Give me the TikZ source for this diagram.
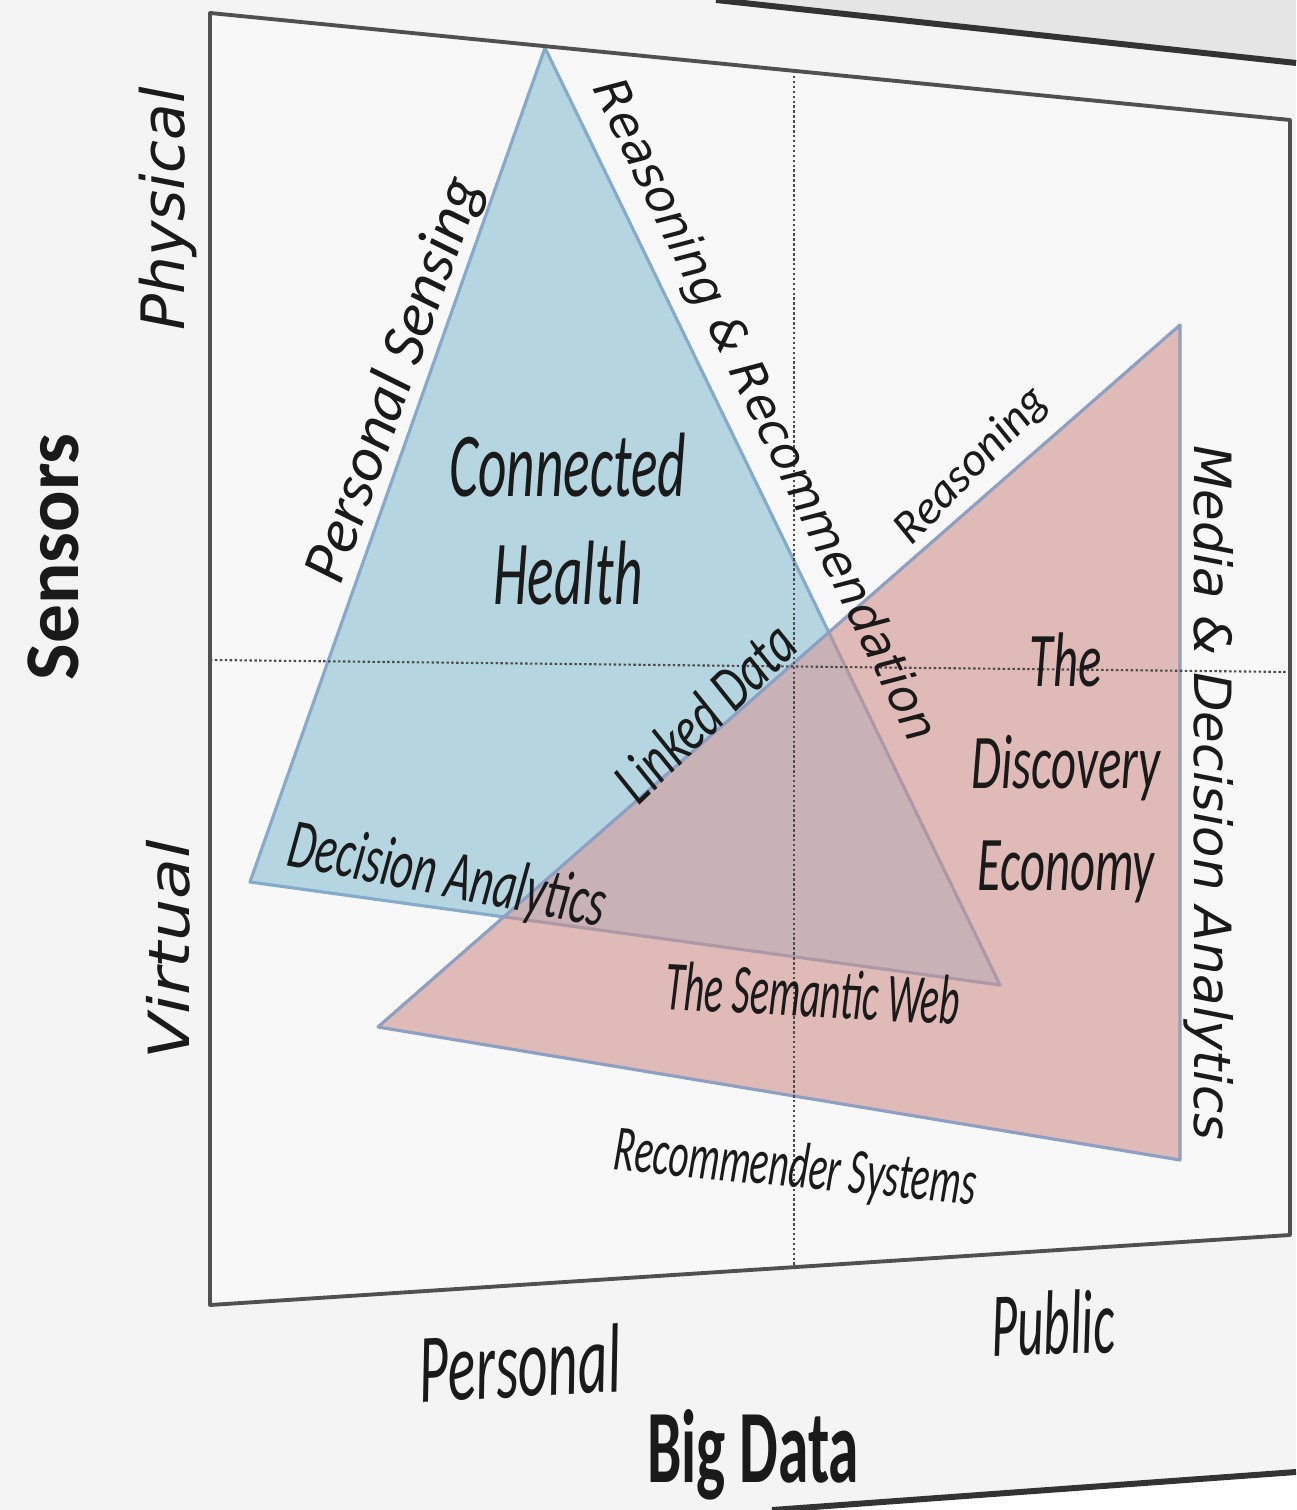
\documentclass[tikz,border=0pt]{standalone}
\usepackage{fontspec}
\setmainfont{Carlito}
\newfontfamily\widesans{DejaVu Sans}
\usepackage{xcolor}
\definecolor{paper}{HTML}{F4F4F4}
\definecolor{sheet}{HTML}{F8F8F8}
\definecolor{healthfill}{HTML}{B5D6E0}
\definecolor{discofill}{HTML}{E0BAB6}
\definecolor{overlap}{HTML}{C8B2B6}
\definecolor{healthedge}{HTML}{86AACB}
\definecolor{mutededge}{HTML}{AE98A6}
\definecolor{discoedge}{HTML}{8E9FC4}
\definecolor{ink}{HTML}{1A1A1A}
\definecolor{rule}{HTML}{505050}
\usepackage{tikz}
\tikzset{
  cal/.style 2 args = {inner sep=0pt, text=ink,
                       font=\itshape\fontsize{#1}{#2}\selectfont},
  ver/.style     = {inner sep=0pt, text=ink,
                    font=\widesans\itshape\fontsize{#1}{#1}\selectfont},
  heavy/.style   = {inner sep=0pt, text=ink,
                    font=\bfseries\fontsize{#1}{#1}\selectfont},
  boxline/.style = {draw=rule, line width=1.1pt, line join=round},
  edgeline/.style = {line width=0.9pt, line join=round},
  divider/.style = {draw=black!70, line width=0.6pt,
                    dash pattern=on 0.7pt off 0.7pt}
}

\begin{document}
\begin{tikzpicture}[x=0.01cm, y=-0.01cm]
  \useasboundingbox (0,0) rectangle (1296,1510);
  % page behind the sheet
  \fill[paper] (0,0) rectangle (1296,1510);
  \fill[black!10] (716,0) -- (1296,0) -- (1296,63) -- cycle;
  \fill[white] (772,1510) -- (1296,1472) -- (1296,1510) -- cycle;
  \draw[draw=black!80, line width=1.7pt] (716,0) -- (1296,63);
  \draw[draw=black!80, line width=1.7pt] (772,1510) -- (1296,1472);

  % the quadrant sheet
  \coordinate (tl) at (210,13);
  \coordinate (tr) at (1290,120);
  \coordinate (br) at (1290,1235);
  \coordinate (bl) at (210,1305);
  \fill[sheet] (tl) -- (tr) -- (br) -- (bl) -- cycle;

  % triangles
  \coordinate (ha) at (545,48);
  \coordinate (hl) at (250,882);
  \coordinate (hr) at (1000,985);
  \coordinate (da) at (1180,325);
  \coordinate (dl) at (378,1027);
  \coordinate (dr) at (1180,1160);
  \fill[healthfill] (ha) -- (hl) -- (hr) -- cycle;
  \draw[edgeline, draw=healthedge] (ha) -- (hl) -- (hr) -- cycle;
  \fill[discofill] (da) -- (dl) -- (dr) -- cycle;
  \begin{scope}
    \clip (da) -- (dl) -- (dr) -- cycle;
    \fill[overlap] (ha) -- (hl) -- (hr) -- cycle;
    \draw[edgeline, draw=mutededge] (ha) -- (hl) -- (hr) -- cycle;
  \end{scope}
  \draw[edgeline, draw=discoedge] (da) -- (dl) -- (dr) -- cycle;

  % quadrant dividers
  \coordinate (vt) at (794,71);
  \coordinate (vb) at (794,1267);
  \coordinate (hw) at (210,660);
  \coordinate (he) at (1290,672);
  \draw[divider] (vt) -- (vb);
  \draw[divider] (hw) -- (he);
  \draw[boxline] (tl) -- (tr) -- (br) -- (bl) -- cycle;

  % axis labels
  \node[heavy=22, rotate=90] (sensors) at (53,557) {Sensors};
  \node[ver=17, rotate=90] (physical) at (168,209) {Physical};
  \node[ver=19, rotate=90, yscale=0.85] (virtual) at (168,950) {Virtual};
  \node[cal={28}{32}, rotate=3, xscale=0.59] (personal) at (520,1363) {Personal};
  \node[cal={26}{30}, rotate=2, xscale=0.56] (public) at (1053,1323) {Public};
  \node[heavy=29.6, xscale=0.59] (bigdata) at (753,1455) {Big Data};

  % area labels
  \node[cal={26}{30.7}, xscale=0.606, align=center] (health) at (568,519)
       {Connected\\Health};
  \node[cal={22}{29}, xscale=0.63, align=center] (economy) at (1066,768)
       {The\\Discovery\\Economy};

  % edge labels
  \path (hl) -- (ha) node[cal={17.8}{20}, sloped, above=0.5pt, pos=0.59]
       (sensing) {Personal Sensing};
  \path (ha) -- (hr) node[ver=13.4, sloped, above=4pt, pos=0.405]
       (recomm) {Reasoning \& Recommendation};
  \node[cal={13.5}{16}, rotate=46] (reasoning) at (972,466) {Reasoning};
  \node[cal={18}{22}, rotate=44, xscale=0.75] (linked) at (705,712)
       {Linked Data};
  \path (da) -- (dr) node[ver=14.6, sloped, above=1pt, pos=0.56]
       (media) {Media \& Decision Analytics};
  \node[cal={20}{24}, rotate=-11, xscale=0.63] (decision) at (447,878)
       {Decision Analytics};
  \node[cal={20}{24}, rotate=-3, xscale=0.56] (semweb) at (813,993)
       {The Semantic Web};
  \node[cal={18.5}{22}, rotate=-5.5, xscale=0.6] (recsys) at (795,1170)
       {Recommender Systems};
\end{tikzpicture}
\end{document}
